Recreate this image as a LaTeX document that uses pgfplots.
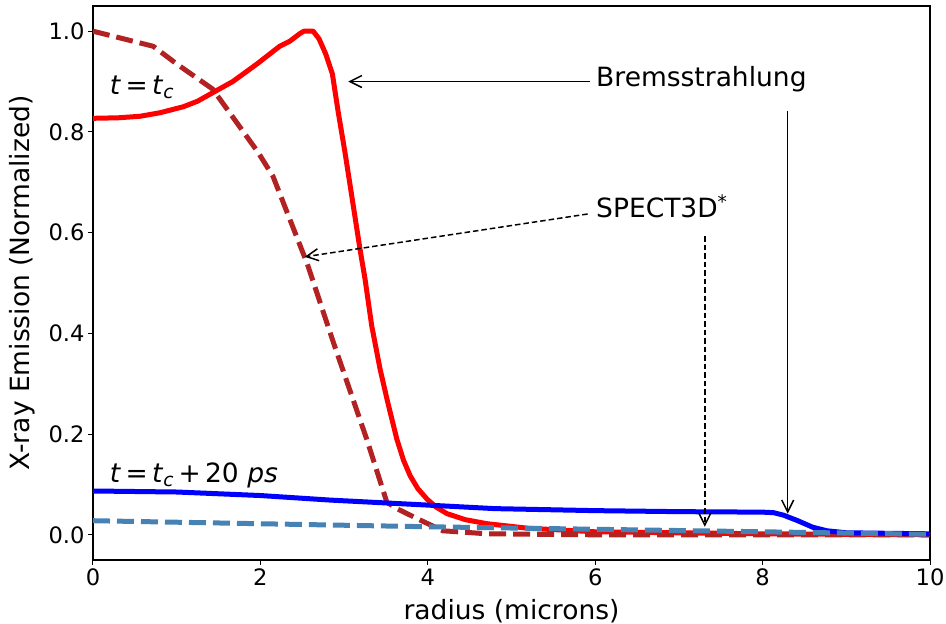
\documentclass[border=0pt]{standalone}
\usepackage{fontspec}
\setmainfont{DejaVu Sans}
\usepackage{pgfplots}
\pgfplotsset{compat=1.18}
\usetikzlibrary{arrows.meta,calc}
\definecolor{brickred}{HTML}{B22222}
\definecolor{steelblue}{HTML}{4682B4}
\newcommand{\ticksize}{\fontsize{22.6}{27}\selectfont}
\newcommand{\labsize}{\fontsize{26.5}{31}\selectfont}
\begin{document}
\begin{tikzpicture}
\begin{axis}[
  scale only axis,
  width=837pt, height=554pt,
  xmin=0, xmax=10, ymin=-0.05, ymax=1.05,
  xtick={0,2,4,6,8,10},
  ytick={0,0.2,0.4,0.6,0.8,1.0},
  yticklabel style={/pgf/number format/.cd,fixed,fixed zerofill,precision=1},
  /pgf/number format/assume math mode=true,
  tick align=outside,
  major tick length=5pt,
  tick style={line width=1pt,black},
  axis line style={line width=1.1pt},
  tick label style={font=\ticksize},
  xtick pos=bottom, ytick pos=left,
  clip=true,
]
% Bremsstrahlung t = tc
\addplot[red, line width=5pt, line join=round] coordinates {
(0,0.827) (0.30,0.828) (0.56,0.831) (0.8,0.838) (1.08,0.850) (1.25,0.861) (1.40,0.875)
(1.67,0.900) (1.96,0.935)
(2.23,0.970) (2.35,0.980) (2.47,0.995) (2.52,1.0) (2.63,1.0) (2.70,0.985) (2.78,0.955) (2.86,0.915)
(2.93,0.839) (3.01,0.760) (3.11,0.653) (3.19,0.567) (3.25,0.508) (3.33,0.415)
(3.43,0.329) (3.52,0.264) (3.63,0.190) (3.71,0.148) (3.79,0.117) (3.88,0.092) (3.99,0.071)
(4.10,0.055) (4.23,0.042) (4.45,0.030)
(4.71,0.022) (5.2,0.013) (6,0.006) (7,0.004) (8,0.002) (9,0.001) (10,0.0)
};
% SPECT3D t = tc
\addplot[brickred, line width=5pt, dash pattern=on 17pt off 7pt] coordinates {
(0,1.0) (0.72,0.970) (1.0,0.935) (1.43,0.885) (1.97,0.760) (2.15,0.712)
(2.56,0.538) (2.87,0.383) (3.27,0.190) (3.51,0.065) (3.63,0.052) (3.9,0.030)
(4.18,0.008) (4.71,0.002) (6,0.0) (8,0.0) (10,0.0)
};
% Bremsstrahlung t = tc + 20 ps
\addplot[blue, line width=5pt, line join=round] coordinates {
(0,0.087) (1,0.085) (2,0.078) (2.83,0.069) (4,0.059) (4.8,0.052) (6,0.048)
(7,0.046) (8,0.045) (8.13,0.044) (8.25,0.039) (8.42,0.028) (8.6,0.015)
(8.77,0.008) (9,0.004) (10,0.002)
};
% SPECT3D t = tc + 20 ps
\addplot[steelblue, line width=5pt, dash pattern=on 17pt off 7pt] coordinates {
(0,0.028) (2,0.022) (4,0.016) (6,0.011) (8,0.006) (10,0.001)
};
% annotations
\node[anchor=west, font=\labsize, inner sep=0pt] at (axis cs:0.2,0.889)
  {\textit{t}\,=\,\textit{t}\textsubscript{\textit{c}}};
\node[anchor=west, font=\labsize, inner sep=0pt] at (axis cs:0.2,0.117)
  {\textit{t}\,=\,\textit{t}\textsubscript{\textit{c}}\,+\,20\ \textit{ps}};
\node[anchor=west, font=\labsize, inner sep=0pt] at (axis cs:6.01,0.905) {Bremsstrahlung};
\node[anchor=west, font=\labsize, inner sep=0pt] at (axis cs:6.01,0.653) {SPECT3D\textsuperscript{*}};
\draw[line width=1.5pt, -{Straight Barb[length=12pt,width=12pt,line width=1.5pt]}]
  (axis cs:5.94,0.900) -- (axis cs:3.05,0.900);
\draw[line width=1.5pt, -{Straight Barb[length=12pt,width=12pt,line width=1.5pt]}]
  (axis cs:8.30,0.841) -- (axis cs:8.30,0.042);
\draw[line width=1.5pt, dash pattern=on 5.5pt off 3pt, -{Straight Barb[length=12pt,width=12pt,line width=1.5pt]}]
  (axis cs:5.91,0.637) -- (axis cs:2.53,0.552);
\draw[line width=1.5pt, dash pattern=on 5.5pt off 3pt, -{Straight Barb[length=12pt,width=12pt,line width=1.5pt]}]
  (axis cs:7.31,0.593) -- (axis cs:7.31,0.016);
\end{axis}
% axis labels
\node[rotate=90, anchor=north, font=\labsize, inner sep=0pt] at ($(current axis.west)+(-84pt,0)$) {X-ray Emission (Normalized)};
\node[anchor=north, font=\labsize, inner sep=0pt] at ($(current axis.south)+(0,-39pt)$) {radius (microns)};
\pgfresetboundingbox
\path[use as bounding box] ($(current axis.south west)+(-93pt,-64pt)$) rectangle ($(current axis.north east)+(16pt,6pt)$);
\end{tikzpicture}
\end{document}
